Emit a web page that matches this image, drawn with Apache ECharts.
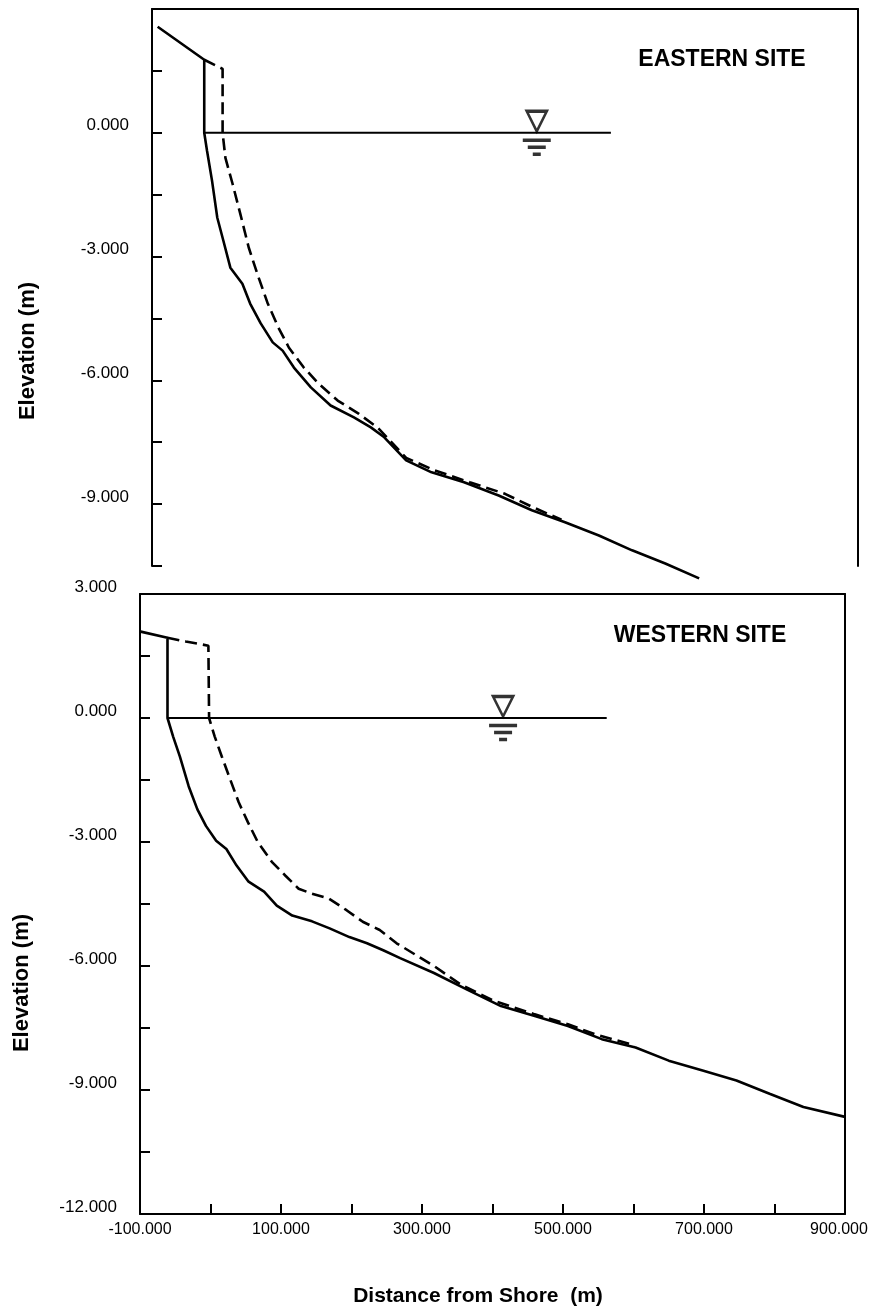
<!DOCTYPE html>
<html>
<head>
<meta charset="utf-8">
<title>Profiles - Eastern / Western site</title>
<script src="https://cdn.jsdelivr.net/npm/echarts@6/dist/echarts.min.js"></script>
<style>
  html, body { margin: 0; padding: 0; background: #fff; }
  #chart { width: 869px; height: 1314px; }
</style>
</head>
<body>
<div id="chart"></div>
<script>
// eastern site, solid profile
const eastX1 = [-92, -26, -26, -22, -15, -7.5, 1, 11, 28, 39, 54, 71, 85, 101, 125, 153, 186, 210, 229, 260, 296, 342, 391, 438, 485, 533, 580, 627, 675];
const eastY1 = [2.57, 1.77, 0, -0.44, -1.16, -2.06, -2.61, -3.27, -3.66, -4.14, -4.62, -5.08, -5.28, -5.69, -6.17, -6.61, -6.9, -7.14, -7.38, -7.94, -8.23, -8.47, -8.79, -9.15, -9.44, -9.76, -10.12, -10.44, -10.8];
// eastern site, dashed profile
const eastX2 = [-26, 0, 0, 4, 14, 25, 37, 49, 64, 79, 94, 115, 136, 163, 192, 220, 260, 300, 350, 400, 440, 480];
const eastY2 = [1.77, 1.55, 0, -0.61, -1.23, -1.96, -2.78, -3.41, -4.14, -4.72, -5.21, -5.69, -6.08, -6.49, -6.8, -7.15, -7.88, -8.18, -8.47, -8.75, -9.08, -9.38];
// western site, solid profile
const westX1 = [-99, -61, -61, -53, -43.5, -31, -18.6, -6.5, 8, 22.5, 37, 54, 76, 94, 116, 144, 169, 197, 222, 245, 269, 317, 364, 412, 460, 507, 555, 603, 650, 698, 746, 793, 841, 900];
const westY1 = [2.09, 1.94, 0, -0.45, -0.93, -1.65, -2.21, -2.61, -2.97, -3.17, -3.57, -3.96, -4.2, -4.54, -4.78, -4.92, -5.09, -5.3, -5.45, -5.62, -5.81, -6.17, -6.57, -6.97, -7.21, -7.45, -7.77, -7.97, -8.29, -8.53, -8.77, -9.09, -9.41, -9.65];
// western site, dashed profile
const westX2 = [-61, -35, -3, -2, 6, 16, 28, 40, 53, 67, 87, 106, 125, 144, 168, 193, 216, 240, 264, 317, 355, 403, 460, 507, 545, 602];
const westY2 = [1.94, 1.85, 1.75, 0, -0.45, -0.93, -1.49, -2.04, -2.52, -3.0, -3.48, -3.81, -4.13, -4.25, -4.37, -4.65, -4.93, -5.13, -5.45, -6.0, -6.45, -6.85, -7.17, -7.41, -7.65, -7.92];
// still water level (0 m) and the water mark
const eastWaterX = [-26, 550];
const westWaterX = [-61, 562];
const eastMarkX = 445;
const westMarkX = 415;
// axes
const xMin = -100, xMax = 900, xStep = 100;
const yStep = 1.5;
const eastYMin = -10.5, westYMin = -12, yMax = 3;

const zip = (xs, ys) => xs.map((x, i) => [x, ys[i]]);
const ink = '#000';
const tickFont = '"Liberation Sans", Arial, sans-serif';
const boldFont = '"Liberation Sans", Arial, Helvetica, sans-serif';
// triangle over three shrinking bars
const waterSymbol = 'path://M5,0 L25,0 L15,20 Z M1,29 L29,29 M6,36 L24,36 M11,43 L19,43';

const frameX = (gridIndex) => ({
  type: 'value', gridIndex, position: 'top', min: xMin, max: xMax,
  axisLine: { show: true, onZero: false, lineStyle: { color: ink, width: 2 } },
  axisTick: { show: false }, axisLabel: { show: false }, splitLine: { show: false },
});
const frameY = (gridIndex, min) => ({
  type: 'value', gridIndex, position: 'right', min, max: yMax,
  axisLine: { show: true, onZero: false, lineStyle: { color: ink, width: 2 } },
  axisTick: { show: false }, axisLabel: { show: false }, splitLine: { show: false },
});
const elevY = (gridIndex, min, showTop) => ({
  type: 'value', gridIndex, position: 'left', min, max: yMax, interval: yStep,
  axisLine: { show: true, onZero: false, lineStyle: { color: ink, width: 2 } },
  axisTick: { show: true, inside: true, length: 10, lineStyle: { color: ink, width: 2 } },
  axisLabel: {
    show: true, margin: 23, color: ink, fontFamily: tickFont, fontSize: 17,
    verticalAlign: 'bottom', lineHeight: 14, showMinLabel: true, showMaxLabel: true,
    formatter: (v) => (Math.abs(v % 3) < 1e-6 && (showTop || v < 2.9) ? v.toFixed(3) : ''),
  },
  splitLine: { show: false },
});

const profile = (xs, ys, idx, dashed) => ({
  type: 'line', data: zip(xs, ys), xAxisIndex: idx, yAxisIndex: idx,
  showSymbol: false, clip: false, silent: true, z: 3,
  lineStyle: { color: ink, width: 2.6, type: dashed ? [12, 6] : 'solid' },
});
const water = (xs, idx) => ({
  type: 'line', data: xs.map((x) => [x, 0]), xAxisIndex: idx, yAxisIndex: idx,
  showSymbol: false, silent: true, z: 2,
  lineStyle: { color: ink, width: 2 },
});
const mark = (x, idx) => ({
  type: 'scatter', data: [[x, 0]], xAxisIndex: idx, yAxisIndex: idx,
  symbol: waterSymbol, symbolSize: [28, 43], silent: true, z: 4,
  itemStyle: { color: 'rgba(0,0,0,0)', borderColor: ink, borderWidth: 2.8 },
});

const mChart = echarts.init(document.getElementById('chart'), null, { renderer: 'canvas' });

const renderChart = () => {
  const options = {
    animation: false,
    backgroundColor: '#fff',
    grid: [
      { left: 152, top: 9, width: 706, height: 557, outerBoundsMode: 'none' },
      { left: 140, top: 594, width: 705, height: 620, outerBoundsMode: 'none' },
    ],
    xAxis: [
      frameX(0),
      frameX(1),
      {
        type: 'value', gridIndex: 1, position: 'bottom', min: xMin, max: xMax, interval: xStep,
        axisLine: { show: true, onZero: false, lineStyle: { color: ink, width: 2 } },
        axisTick: { show: true, inside: true, length: 10, lineStyle: { color: ink, width: 2 } },
        axisLabel: {
          show: true, margin: 8, color: ink, fontFamily: tickFont, fontSize: 16,
          showMinLabel: true, showMaxLabel: true,
          formatter: (v) => {
            if ((v - xMin) % 200 !== 0) return '';
            // last label sits against the page edge
            return v === xMax ? '{edge|' + v.toFixed(3) + '}' : v.toFixed(3);
          },
          rich: { edge: { fontFamily: tickFont, fontSize: 16, color: ink, padding: [0, 12, 0, 0] } },
        },
        splitLine: { show: false },
      },
    ],
    yAxis: [
      elevY(0, eastYMin, false),
      frameY(0, eastYMin),
      elevY(1, westYMin, true),
      frameY(1, westYMin),
    ],
    graphic: [
      { type: 'text', x: 722, y: 60, style: { text: 'EASTERN SITE', font: 'bold 23px ' + boldFont, fill: ink, align: 'center', verticalAlign: 'middle', textAlign: 'center', textVerticalAlign: 'middle' } },
      { type: 'text', x: 700, y: 636, style: { text: 'WESTERN SITE', font: 'bold 23px ' + boldFont, fill: ink, align: 'center', verticalAlign: 'middle', textAlign: 'center', textVerticalAlign: 'middle' } },
      { type: 'text', x: 28, y: 351, rotation: Math.PI / 2, style: { text: 'Elevation (m)', font: 'bold 22px ' + boldFont, fill: ink, align: 'center', verticalAlign: 'middle', textAlign: 'center', textVerticalAlign: 'middle' } },
      { type: 'text', x: 22, y: 983, rotation: Math.PI / 2, style: { text: 'Elevation (m)', font: 'bold 22px ' + boldFont, fill: ink, align: 'center', verticalAlign: 'middle', textAlign: 'center', textVerticalAlign: 'middle' } },
      { type: 'text', x: 478, y: 1296, style: { text: 'Distance from Shore  (m)', font: 'bold 21px ' + boldFont, fill: ink, align: 'center', verticalAlign: 'middle', textAlign: 'center', textVerticalAlign: 'middle' } },
    ],
    series: [
      water(eastWaterX, 0),
      mark(eastMarkX, 0),
      profile(eastX1, eastY1, 0, false),
      profile(eastX2, eastY2, 0, true),
      water(westWaterX, 2),
      mark(westMarkX, 2),
      profile(westX1, westY1, 2, false),
      profile(westX2, westY2, 2, true),
    ],
  };
  mChart.setOption(options);
};
renderChart();
</script>
</body>
</html>
